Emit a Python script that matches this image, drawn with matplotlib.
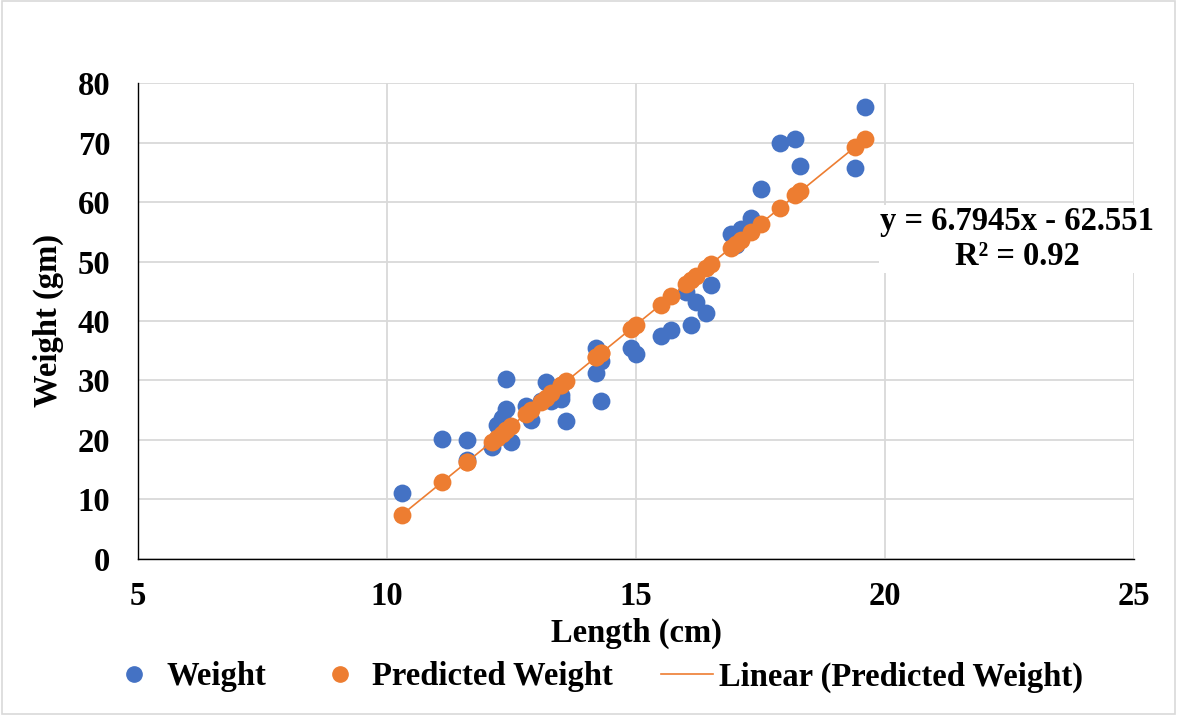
import matplotlib.pyplot as plt
from matplotlib.lines import Line2D
from matplotlib.patches import Rectangle

length = [10.3, 11.1, 11.6, 11.6, 12.1, 12.2, 12.3, 12.4, 12.4, 12.5,
          12.8, 12.9, 13.1, 13.2, 13.3, 13.5, 13.5, 13.6, 14.2, 14.3,
          14.2, 14.3, 14.9, 15.0, 15.5, 15.7, 16.1, 16.4, 16.2, 16.0,
          16.5, 16.9, 17.1, 17.0, 17.3, 17.5, 17.9, 18.2, 18.3, 19.4,
          19.6]
weight = [11.1, 20.1, 20.0, 16.6, 18.9, 22.5, 23.7, 25.2, 30.2, 19.7,
          25.7, 23.4, 26.5, 29.7, 26.6, 26.9, 27.6, 23.2, 35.4, 33.2,
          31.2, 26.5, 35.4, 34.5, 37.5, 38.5, 39.3, 41.3, 43.2, 44.8,
          46.0, 54.6, 55.5, 52.8, 57.3, 62.2, 69.9, 70.6, 66.0, 65.7,
          76.0]
predicted = [7.43, 12.86, 16.26, 16.26, 19.66, 20.34, 21.02, 21.70, 21.70, 22.38,
             24.42, 25.10, 26.46, 27.14, 27.82, 29.18, 29.18, 29.86, 33.93, 34.61,
             33.93, 34.61, 38.69, 39.37, 42.76, 44.12, 46.84, 48.88, 47.52, 46.16,
             49.56, 52.27, 53.63, 52.96, 54.99, 56.35, 59.07, 61.11, 61.79, 69.26,
             70.62]

x_ticks = [5, 10, 15, 20, 25]
y_ticks = [0, 10, 20, 30, 40, 50, 60, 70, 80]

BLUE = '#4472c4'
ORANGE = '#ed7d31'
GRID = '#d9d9d9'
FS = 23.5

plt.rcParams['font.family'] = ['Liberation Serif', 'DejaVu Serif']
plt.rcParams['font.weight'] = 'bold'

fig = plt.figure(figsize=(11.77, 7.15), dpi=100)
ax = fig.add_axes([0.1172, 0.2182, 0.8463, 0.6657])

# outer border of the chart area
fig.patches.append(Rectangle((0.002, 0.002), 0.996, 0.996, transform=fig.transFigure,
                             fill=False, edgecolor=GRID, linewidth=1.2))

ax.scatter(length, weight, s=165, color=BLUE, zorder=3, linewidths=0)
ax.scatter(length, predicted, s=165, color=ORANGE, zorder=4, linewidths=0)

# trendline through the predicted points
pairs = sorted(zip(length, predicted))
ax.plot([p[0] for p in pairs], [p[1] for p in pairs], color=ORANGE, lw=1.2, zorder=5)

ax.set_xlim(5, 25)
ax.set_ylim(0, 80)
ax.set_xticks(x_ticks)
ax.set_yticks(y_ticks)
ax.tick_params(length=0, labelsize=FS)
ax.tick_params(axis='x', pad=16)
ax.tick_params(axis='y', pad=20)
for lab in ax.get_xticklabels() + ax.get_yticklabels():
    lab.set_fontweight('bold')

ax.grid(True, color=GRID, lw=1.3, zorder=0)
ax.set_axisbelow(True)
for side in ['top', 'right']:
    ax.spines[side].set_visible(False)
for side in ['left', 'bottom']:
    ax.spines[side].set_color('black')
    ax.spines[side].set_linewidth(1.0)

ax.set_xlabel('Length (cm)', fontsize=FS, fontweight='bold', labelpad=4)
ax.set_ylabel('Weight (gm)', fontsize=FS, fontweight='bold', labelpad=10)

ax.text(22.65, 53.8, 'y = 6.7945x - 62.551\nR\u00b2 = 0.92', fontsize=FS, fontweight='bold',
        ha='center', va='center', linespacing=1.15, zorder=6,
        bbox=dict(facecolor='white', edgecolor='none', pad=1))

handles = [
    Line2D([], [], marker='o', ls='none', color=BLUE, markersize=11),
    Line2D([], [], marker='o', ls='none', color=ORANGE, markersize=11),
    Line2D([], [], color=ORANGE, lw=1.2),
]
fig.legend(handles, ['Weight', 'Predicted Weight', 'Linear (Predicted Weight)'],
           loc='center', bbox_to_anchor=(0.506, 0.053), ncol=3, frameon=False,
           prop={'size': FS, 'weight': 'bold'}, handlelength=1.6, handletextpad=0.2,
           columnspacing=1.45, borderpad=0.2)

fig.savefig('out.png', dpi=100)
